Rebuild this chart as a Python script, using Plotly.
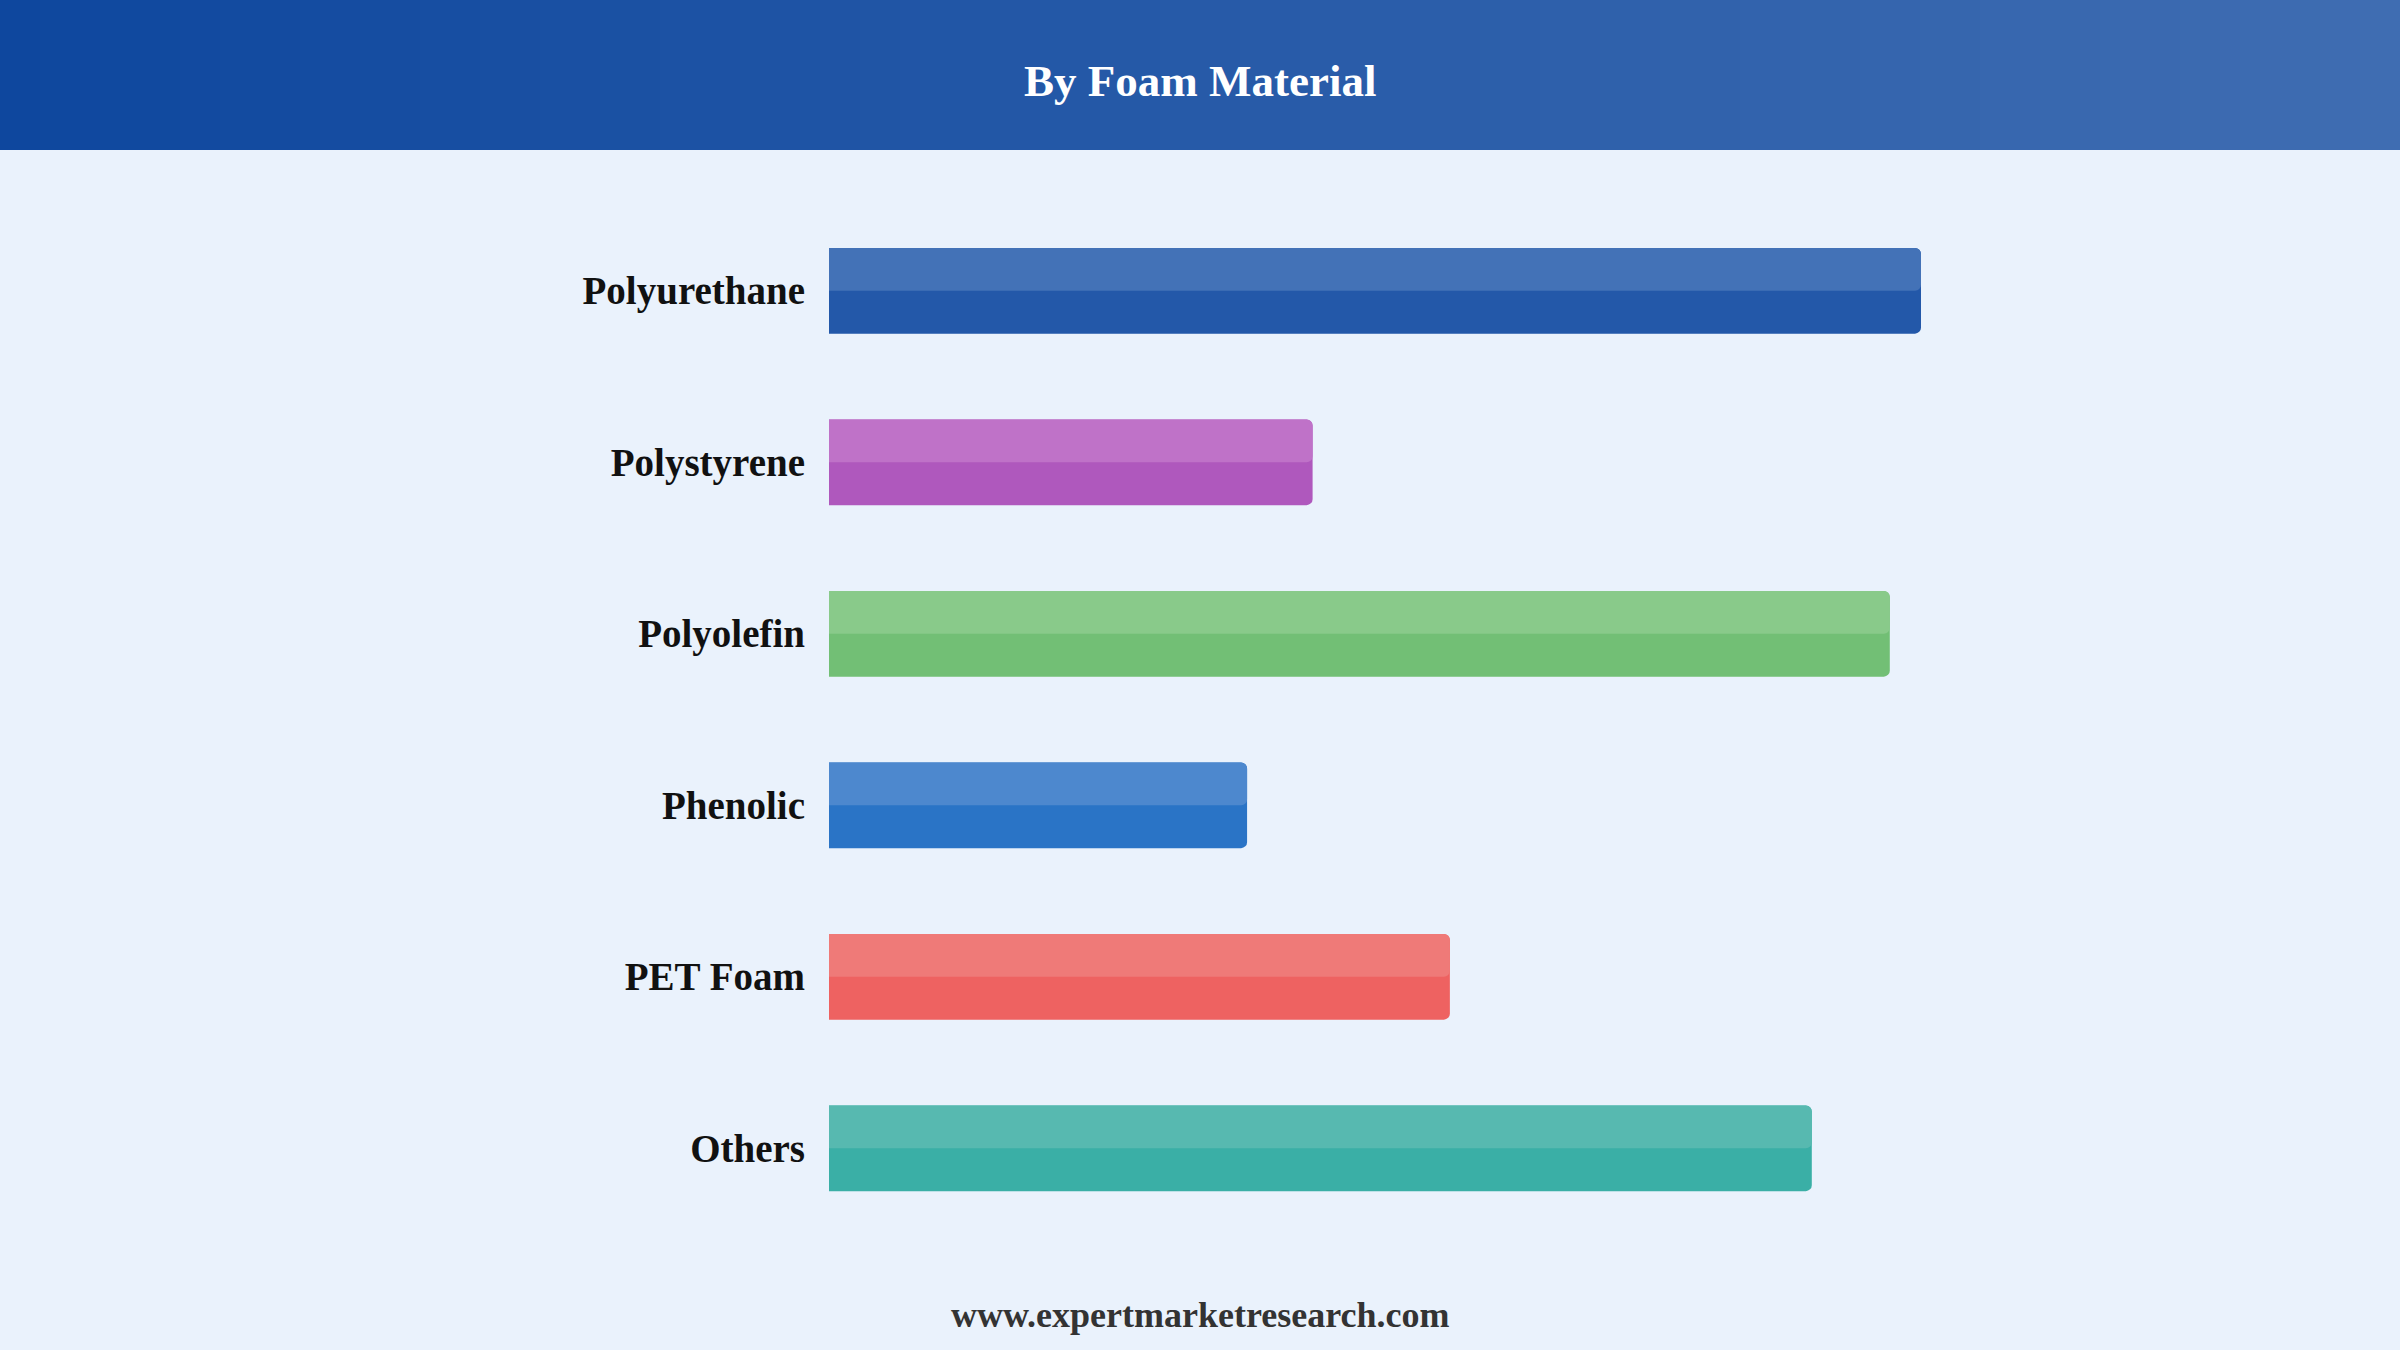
import plotly.graph_objects as go

# data
materials = ["Polyurethane", "Polystyrene", "Polyolefin", "Phenolic", "PET Foam", "Others"]
values = [35.0, 15.5, 34.0, 13.4, 19.9, 31.5]

dark_colors = ["#2358a9", "#af58bd", "#72bf75", "#2a74c6", "#ee6261", "#3aafa6"]
light_colors = ["#4372b7", "#bf72c8", "#89ca8a", "#4d88ce", "#ef7a78", "#57b9b0"]

W, H = 2400, 1350
L, R, T, B = 829, 323, 205, 116
plot_w = W - L - R
plot_h = H - T - B

fig = go.Figure()

# full bar (darker lower half shows through)
fig.add_trace(go.Bar(
    x=values, y=materials, orientation="h",
    width=0.5, offset=-0.25,
    marker=dict(color=dark_colors, line=dict(width=0), cornerradius=6),
    hoverinfo="skip", showlegend=False,
))
# lighter top half
fig.add_trace(go.Bar(
    x=values, y=materials, orientation="h",
    width=0.25, offset=-0.25,
    marker=dict(color=light_colors, line=dict(width=0), cornerradius=6),
    hovertemplate="%{y}: %{x}<extra></extra>", showlegend=False,
))

# header gradient band, built from thin strips
c0 = (0x0e, 0x47, 0x9e)
c1 = (0x3f, 0x6d, 0xb2)
n = 120
shapes = []
for i in range(n):
    f = i / (n - 1)
    col = "rgb(%d,%d,%d)" % tuple(round(a + (b - a) * f) for a, b in zip(c0, c1))
    px0 = W * i / n
    px1 = W * (i + 1) / n + 1
    shapes.append(dict(
        type="rect", layer="below", line=dict(width=0), fillcolor=col,
        xref="paper", yref="paper",
        x0=(px0 - L) / plot_w, x1=(px1 - L) / plot_w,
        y0=(H - B - 150) / plot_h, y1=(H - B) / plot_h + 0.01,
    ))

fig.update_layout(
    width=W, height=H,
    margin=dict(l=L, r=R, t=T, b=B),
    barmode="overlay",
    plot_bgcolor="#eaf2fc",
    paper_bgcolor="#eaf2fc",
    shapes=shapes,
    xaxis=dict(range=[0, 40], visible=False, fixedrange=True),
    yaxis=dict(
        categoryorder="array", categoryarray=materials,
        autorange="reversed",
        showgrid=False, zeroline=False, showline=False,
        ticks="", ticklabelstandoff=23,
        tickfont=dict(family="Liberation Serif", size=39, color="#111111", weight="bold"),
        fixedrange=True,
    ),
    annotations=[
        dict(text="<b>By Foam Material</b>", xref="paper", yref="paper",
             x=(1200 - L) / plot_w, y=(H - B - 81) / plot_h,
             xanchor="center", yanchor="middle", showarrow=False,
             font=dict(family="Liberation Serif", size=45, color="white")),
        dict(text="<b>www.expertmarketresearch.com</b>", xref="paper", yref="paper",
             x=(1200 - L) / plot_w, y=(H - B - 1315) / plot_h,
             xanchor="center", yanchor="middle", showarrow=False,
             font=dict(family="Liberation Serif", size=36, color="#333333")),
    ],
)

fig.write_html("out.html", config={"displayModeBar": False},
               post_script="document.body.style.margin='0';")
